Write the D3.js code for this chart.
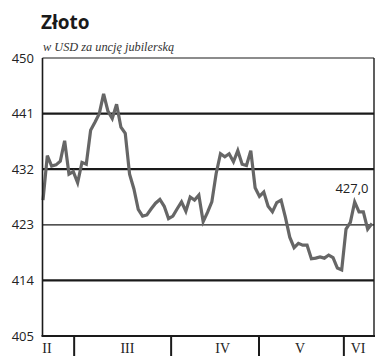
<!DOCTYPE html>
<html>
<head>
<meta charset="utf-8">
<script src="https://cdn.jsdelivr.net/npm/d3@7"></script>
<style>
    body { margin: 0; background: #fff; }
</style>
</head>
<body>
<div id="chart"></div>
<script>
// Gold fixing, daily, mid-February to early June (USD per ounce)
const prices = [
    427.0, 434.2, 432.5, 432.7, 433.3, 436.6, 431.2, 431.6, 429.8, 433.1,
    432.8, 438.3, 439.6, 441.0, 444.2, 441.4, 440.2, 442.5, 438.8, 437.8,
    431.2, 428.8, 425.5, 424.4, 424.6, 425.6, 426.5, 427.1, 426.0, 424.0,
    424.4, 425.6, 426.7, 425.2, 427.5, 427.0, 427.8, 423.5, 425.0, 426.7,
    431.3, 434.5, 434.0, 434.5, 433.2, 435.0, 432.8, 432.6, 435.0, 429.0,
    427.6, 428.3, 426.0, 425.1, 426.6, 427.0, 424.2, 421.0, 419.3, 420.0,
    419.7, 419.7, 417.5, 417.6, 417.8, 417.6, 418.1, 417.7, 416.0, 415.7,
    422.3, 423.4, 426.7, 425.1, 425.1, 422.3, 423.2
];

// Month labels and where each month starts (in trading-day index)
const months = ["II", "III", "IV", "V", "VI"];
const monthLabelPos = [0.9, 19.5, 41.5, 59.4, 72.8];
const monthStarts = [7.2, 29.6, 49.9, 69.5];

const yTicks = [405, 414, 423, 432, 441, 450];
const thickLines = [414, 432, 441];
const lastLabel = "427,0";

const width = 388;
const height = 361;
const margin = { left: 42.5, right: 14, top: 58, bottom: 25 };

const svg = d3.select("#chart")
    .append("svg")
    .attr("width", width)
    .attr("height", height);

const x = d3.scaleLinear()
    .domain([0, prices.length - 1])
    .range([43, 372]);

const y = d3.scaleLinear()
    .domain([405, 450])
    .range([height - margin.bottom, margin.top]);

const plotRight = width - margin.right;

// Title and subtitle
svg.append("text")
    .attr("x", 41)
    .attr("y", 29)
    .attr("font-family", "'Open Sans', sans-serif")
    .attr("font-weight", "bold")
    .attr("font-size", 19)
    .attr("fill", "#1a1a1a")
    .text("Złoto");

svg.append("text")
    .attr("x", 43)
    .attr("y", 51)
    .attr("font-family", "'Liberation Serif', serif")
    .attr("font-style", "italic")
    .attr("font-size", 12.3)
    .attr("fill", "#333")
    .text("w USD za uncję jubilerską");

// Horizontal grid lines
svg.append("g")
    .selectAll("line")
    .data(yTicks.filter(d => d !== 405))
    .enter()
    .append("line")
    .attr("x1", margin.left)
    .attr("x2", plotRight)
    .attr("y1", d => y(d))
    .attr("y2", d => y(d))
    .attr("stroke", "#1a1a1a")
    .attr("stroke-width", d => thickLines.includes(d) ? 2.2 : 1.2);

// Y axis labels
svg.append("g")
    .selectAll("text")
    .data(yTicks)
    .enter()
    .append("text")
    .attr("x", 34)
    .attr("y", d => y(d))
    .attr("dy", "0.35em")
    .attr("text-anchor", "end")
    .attr("font-family", "'Open Sans', sans-serif")
    .attr("font-size", 13)
    .attr("fill", "#222")
    .text(d => d);

// Price line
const line = d3.line()
    .x((d, i) => x(i))
    .y(d => y(d));

svg.append("path")
    .datum(prices)
    .attr("d", line)
    .attr("fill", "none")
    .attr("stroke", "#666")
    .attr("stroke-width", 3.2)
    .attr("stroke-linejoin", "miter");

// Frame: left axis, right border, bottom axis
svg.append("line")
    .attr("x1", margin.left).attr("x2", margin.left)
    .attr("y1", margin.top).attr("y2", y(405))
    .attr("stroke", "#1a1a1a").attr("stroke-width", 1.6);

svg.append("line")
    .attr("x1", plotRight).attr("x2", plotRight)
    .attr("y1", margin.top).attr("y2", y(405))
    .attr("stroke", "#1a1a1a").attr("stroke-width", 1.4);

svg.append("line")
    .attr("x1", margin.left - 1).attr("x2", plotRight + 1)
    .attr("y1", y(405)).attr("y2", y(405))
    .attr("stroke", "#1a1a1a").attr("stroke-width", 2.2);

// Month separators under the axis
svg.append("g")
    .selectAll("line")
    .data(monthStarts)
    .enter()
    .append("line")
    .attr("x1", d => x(d))
    .attr("x2", d => x(d))
    .attr("y1", y(405))
    .attr("y2", y(405) + 20)
    .attr("stroke", "#1a1a1a")
    .attr("stroke-width", 2);

svg.append("g")
    .selectAll("text")
    .data(months)
    .enter()
    .append("text")
    .attr("x", (d, i) => x(monthLabelPos[i]))
    .attr("y", 353)
    .attr("text-anchor", "middle")
    .attr("font-family", "'Liberation Serif', serif")
    .attr("font-size", 14)
    .attr("fill", "#222")
    .text(d => d);

// Value label near the end of the line
svg.append("text")
    .attr("x", 352)
    .attr("y", 193)
    .attr("text-anchor", "middle")
    .attr("font-family", "'Open Sans', sans-serif")
    .attr("font-size", 13)
    .attr("fill", "#222")
    .text(lastLabel);
</script>
</body>
</html>
